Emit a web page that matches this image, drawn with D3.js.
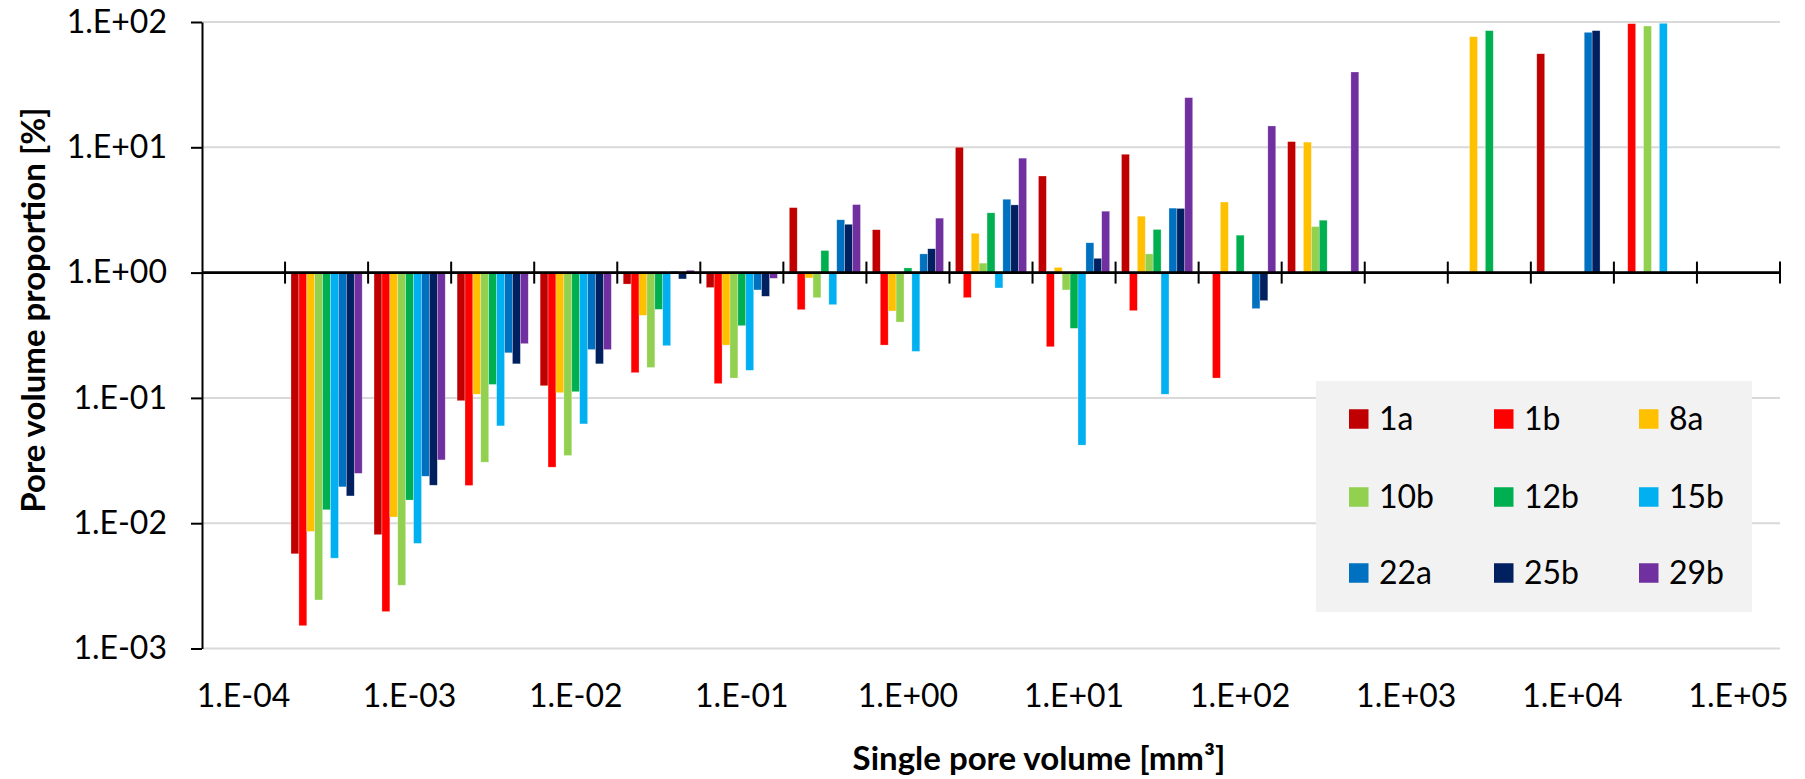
<!DOCTYPE html>
<html>
<head>
<meta charset="utf-8">
<script src="https://cdn.jsdelivr.net/npm/d3@7"></script>
<style>
  html, body { margin: 0; padding: 0; background: #ffffff; }
  svg { display: block; }
  text { font-family: Lato, "Open Sans", sans-serif; fill: #000; }
</style>
</head>
<body>
<svg id="chart" width="1805" height="779"></svg>
<script>
// ---------------- data ----------------
// 19 size classes (half-decade bins); only every second one carries a label
const categories = d3.range(19);
const tickLabels = ["1.E-04","1.E-03","1.E-02","1.E-01","1.E+00","1.E+01","1.E+02","1.E+03","1.E+04","1.E+05"];
const yTicks = [1e-3, 1e-2, 1e-1, 1e0, 1e1, 1e2];
const yTickLabels = ["1.E-03","1.E-02","1.E-01","1.E+00","1.E+01","1.E+02"];
const seriesNames = ["1a","1b","8a","10b","12b","15b","22a","25b","29b"];
const seriesColors = ["#C00000","#FF0000","#FFC000","#92D050","#00B050","#00B0F0","#0070C0","#002060","#7030A0"];

const s1a  = [null, 5.7e-3, 8.1e-3, 0.095, 0.125, 0.81, 0.76, 3.3, 2.2, 10.0, 5.9, 8.8, null, 11.1, null, null, 55.8, null, null];
const s1b  = [null, 1.52e-3, 1.97e-3, 0.020, 0.028, 0.159, 0.13, 0.506, 0.264, 0.631, 0.256, 0.497, 0.144, null, null, null, null, 97.0, null];
const s8a  = [null, 8.6e-3, 1.12e-2, 0.107, 0.110, 0.456, 0.264, 0.906, 0.494, 2.06, 1.10, 2.82, 3.66, 11.0, null, 76.3, null, null, null];
const s10b = [null, 2.44e-3, 3.2e-3, 0.0307, 0.0347, 0.175, 0.144, 0.631, 0.403, 1.19, 0.727, 1.41, null, 2.33, null, null, null, 92.9, null];
const s12b = [null, 1.28e-2, 1.53e-2, 0.128, 0.112, 0.509, 0.377, 1.50, 1.09, 3.0, 0.359, 2.21, 1.99, 2.62, null, 85.3, null, null, null];
const s15b = [null, 5.26e-3, 6.9e-3, 0.0598, 0.062, 0.261, 0.166, 0.555, 0.235, 0.754, 0.042, 0.107, null, null, null, null, null, 97.6, null];
const s22a = [null, 1.95e-2, 2.37e-2, 0.229, 0.243, 1.025, 0.727, 2.64, 1.41, 3.85, 1.73, 3.27, 0.516, null, null, null, 82.7, null, null];
const s25b = [null, 1.65e-2, 2.01e-2, 0.187, 0.187, 0.89, 0.647, 2.43, 1.55, 3.47, 1.30, 3.25, 0.598, null, null, null, 85.3, null, null];
const s29b = [null, 2.5e-2, 3.2e-2, 0.271, 0.243, 1.044, 0.90, 3.49, 2.72, 8.19, 3.09, 24.9, 14.8, 39.9, null, null, null, null, null];
const seriesValues = [s1a, s1b, s8a, s10b, s12b, s15b, s22a, s25b, s29b];

const xTitle = "Single pore volume [mm³]";
const yTitle = "Pore volume proportion [%]";

// ---------------- layout ----------------
const svg = d3.select("#chart");
const plot = { left: 202, right: 1780, top: 22, bottom: 648.5 };

const x = d3.scaleBand().domain(categories).range([plot.left, plot.right]).paddingInner(0).paddingOuter(0);
const xs = d3.scaleBand().domain(seriesNames).range([0, x.bandwidth()]).paddingInner(0).paddingOuter(0.75);
const y = d3.scaleLog().domain([1e-3, 1e2]).range([plot.bottom, plot.top]);
const color = d3.scaleOrdinal().domain(seriesNames).range(seriesColors);
const base = y(1);

// gridlines
svg.append("g").selectAll("line").data(yTicks).join("line")
  .attr("x1", plot.left).attr("x2", plot.right)
  .attr("y1", d => y(d)).attr("y2", d => y(d))
  .attr("stroke", "#d9d9d9").attr("stroke-width", 2);

// bars
const barData = [];
seriesNames.forEach((s, si) => {
  seriesValues[si].forEach((v, ci) => {
    if (v !== null) barData.push({ s, c: categories[ci], v });
  });
});
svg.append("g").selectAll("rect").data(barData).join("rect")
  .attr("x", d => x(d.c) + xs(d.s))
  .attr("width", xs.bandwidth())
  .attr("y", d => Math.min(y(d.v), base))
  .attr("height", d => Math.abs(y(d.v) - base))
  .attr("fill", d => color(d.s))
  .attr("stroke", "#ffffff").attr("stroke-width", 0.6).attr("stroke-opacity", 0.45);

// y axis
const yAxis = d3.axisLeft(y).tickValues(yTicks)
  .tickFormat((d, i) => yTickLabels[i])
  .tickSize(11).tickSizeOuter(0).tickPadding(24);
const gy = svg.append("g").attr("transform", `translate(${plot.left},0)`).call(yAxis);
gy.select(".domain").attr("stroke", "#000").attr("stroke-width", 2);
gy.selectAll(".tick line").attr("stroke", "#000").attr("stroke-width", 2);
gy.selectAll(".tick text").style("font-size", "32px").style("font-family", "Lato, sans-serif").attr("fill", "#000");

// category axis crossing at 1
svg.append("line")
  .attr("x1", plot.left).attr("x2", plot.right)
  .attr("y1", base).attr("y2", base)
  .attr("stroke", "#000").attr("stroke-width", 2.8);
const boundaries = categories.slice(1).map(c => x(c)).concat([x.range()[1]]);
svg.append("g").selectAll("line").data(boundaries).join("line")
  .attr("x1", d => d).attr("x2", d => d)
  .attr("y1", base - 11).attr("y2", base + 11)
  .attr("stroke", "#000").attr("stroke-width", 2);

// x labels (every second class)
svg.append("g").selectAll("text").data(tickLabels).join("text")
  .attr("x", (d, i) => x(categories[i * 2]) + x.bandwidth() / 2)
  .attr("y", 696).attr("dy", "0.35em")
  .attr("text-anchor", "middle")
  .style("font-size", "32px")
  .text(d => d);

// axis titles
svg.append("text")
  .attr("x", 1039).attr("y", 758).attr("dy", "0.35em")
  .attr("text-anchor", "middle")
  .style("font-size", "33px").style("font-weight", "bold")
  .text(xTitle);
svg.append("text")
  .attr("transform", "translate(33,310) rotate(-90)")
  .attr("dy", "0.35em")
  .attr("text-anchor", "middle")
  .style("font-size", "33px").style("font-weight", "bold")
  .text(yTitle);

// legend
const lg = svg.append("g");
lg.append("rect").attr("x", 1316).attr("y", 381).attr("width", 436).attr("height", 231).attr("fill", "#f2f2f2");
const rowsY = [419, 497, 573];
const items = lg.selectAll("g.item").data(seriesNames).join("g").attr("class", "item")
  .attr("transform", (d, i) => `translate(${1349 + (i % 3) * 145},${rowsY[Math.floor(i / 3)]})`);
items.append("rect").attr("x", 0).attr("y", -9.75).attr("width", 19.5).attr("height", 19.5).attr("fill", d => color(d));
items.append("text").attr("x", 30).attr("y", 0).attr("dy", "0.35em").style("font-size", "32px").text(d => d);
</script>
</body>
</html>
